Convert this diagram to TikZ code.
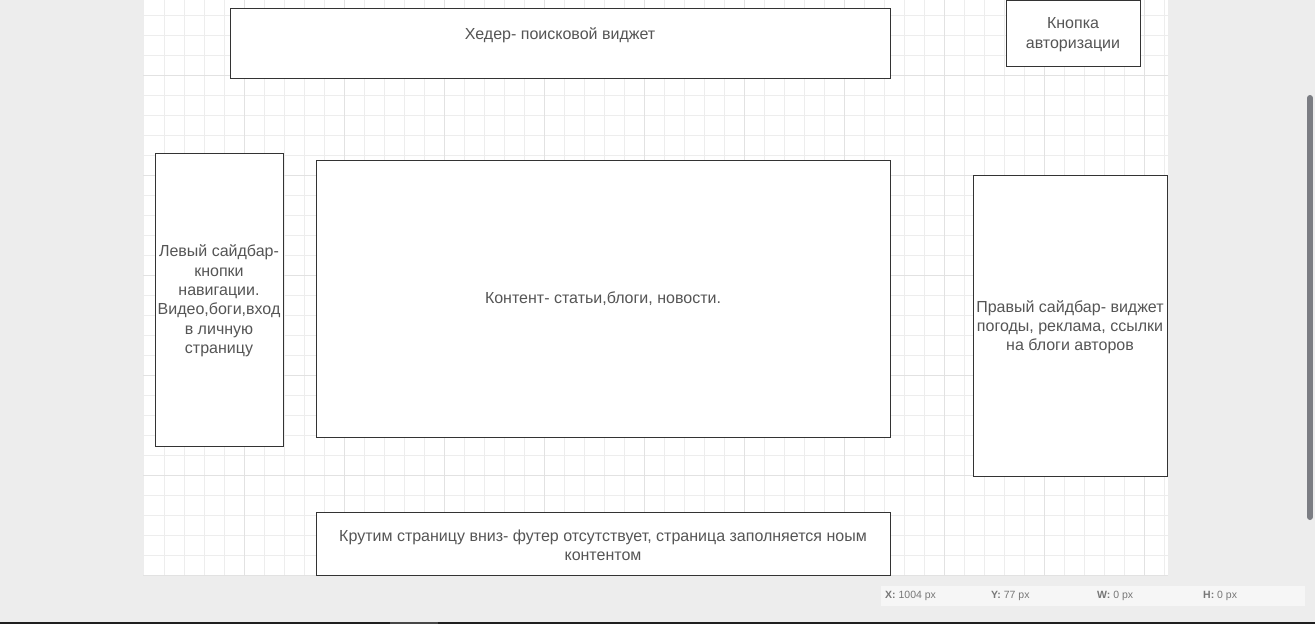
\documentclass[tikz,border=0pt]{standalone}
\usepackage{fontspec}
\setmainfont{Liberation Sans}
\begin{document}
\begin{tikzpicture}[x=1pt,y=-1pt,
  box/.style={draw=boxline,line width=1pt,fill=white},
  lbl/.style={text=txt,font=\fontsize{16}{19.4}\selectfont,align=center,inner sep=0pt},
  stat/.style={text=stattxt,font=\fontsize{10.5}{12}\selectfont,anchor=west,inner sep=0pt}]
\definecolor{outer}{HTML}{EDEDED}
\definecolor{gridminor}{HTML}{EDEDED}
\definecolor{gridmajor}{HTML}{E2E2E2}
\definecolor{boxline}{HTML}{333333}
\definecolor{txt}{HTML}{555555}
\definecolor{stattxt}{HTML}{777777}
\definecolor{statbg}{HTML}{F6F6F6}
\definecolor{scroll}{HTML}{7B7D83}
\useasboundingbox (0,0) rectangle (1315,624);
\fill[outer] (0,0) rectangle (1315,624);
% page
\fill[white] (143,0) rectangle (1168,575);
\draw[gridminor,line width=0.8pt] (143,575) -- (1168,575) (1168,0) -- (1168,575) (143,0) -- (143,575);
\foreach \x in {164,184,...,1164} {\draw[gridminor,line width=0.8pt] (\x,0) -- (\x,575);}
\foreach \y in {15,35,...,575} {\draw[gridminor,line width=0.8pt] (143,\y) -- (1168,\y);}
\foreach \x in {244,344,...,1164} {\draw[gridmajor,line width=0.8pt] (\x,0) -- (\x,575);}
\foreach \y in {75,175,...,575} {\draw[gridmajor,line width=0.8pt] (143,\y) -- (1168,\y);}
% boxes
\draw[box] (230,8) rectangle (890,78);
\node[lbl] (header) at (560,35) {Хедер- поисковой виджет};
\draw[box] (1006,0) rectangle (1140,66);
\node[lbl] (auth) at (1073,34.5) {Кнопка\\авторизации};
\draw[box] (155,153) rectangle (283,446);
\node[lbl] (left) at (219,301) {Левый сайдбар-\\кнопки\\навигации.\\Видео,боги,вход\\в личную\\страницу};
\draw[box] (316,160) rectangle (890,437);
\node[lbl] (content) at (603,298.5) {Контент- статьи,блоги, новости.};
\draw[box] (973,175) rectangle (1167,476);
\node[lbl] (right) at (1070,327.2) {Правый сайдбар- виджет\\погоды, реклама, ссылки\\на блоги авторов};
\draw[box] (316,512) rectangle (890,575);
\node[lbl] (footer) at (603,545) {Крутим страницу вниз- футер отсутствует, страница заполняется ноым\\контентом};
% scrollbar
\draw[scroll,line width=6pt,line cap=round] (1310,98) -- (1310,517);
% status bar
\fill[statbg] (881,586) rectangle (1305,606);
\node[stat] (sx) at (885,596) {\textbf{X:} 1004 px};
\node[stat] (sy) at (991,596) {\textbf{Y:} 77 px};
\node[stat] (sw) at (1097,596) {\textbf{W:} 0 px};
\node[stat] (sh) at (1203,596) {\textbf{H:} 0 px};
% bottom bar
\fill[black!88] (0,622) rectangle (1315,624);
\fill[black!72] (390,622) rectangle (438,624);
\end{tikzpicture}
\end{document}
